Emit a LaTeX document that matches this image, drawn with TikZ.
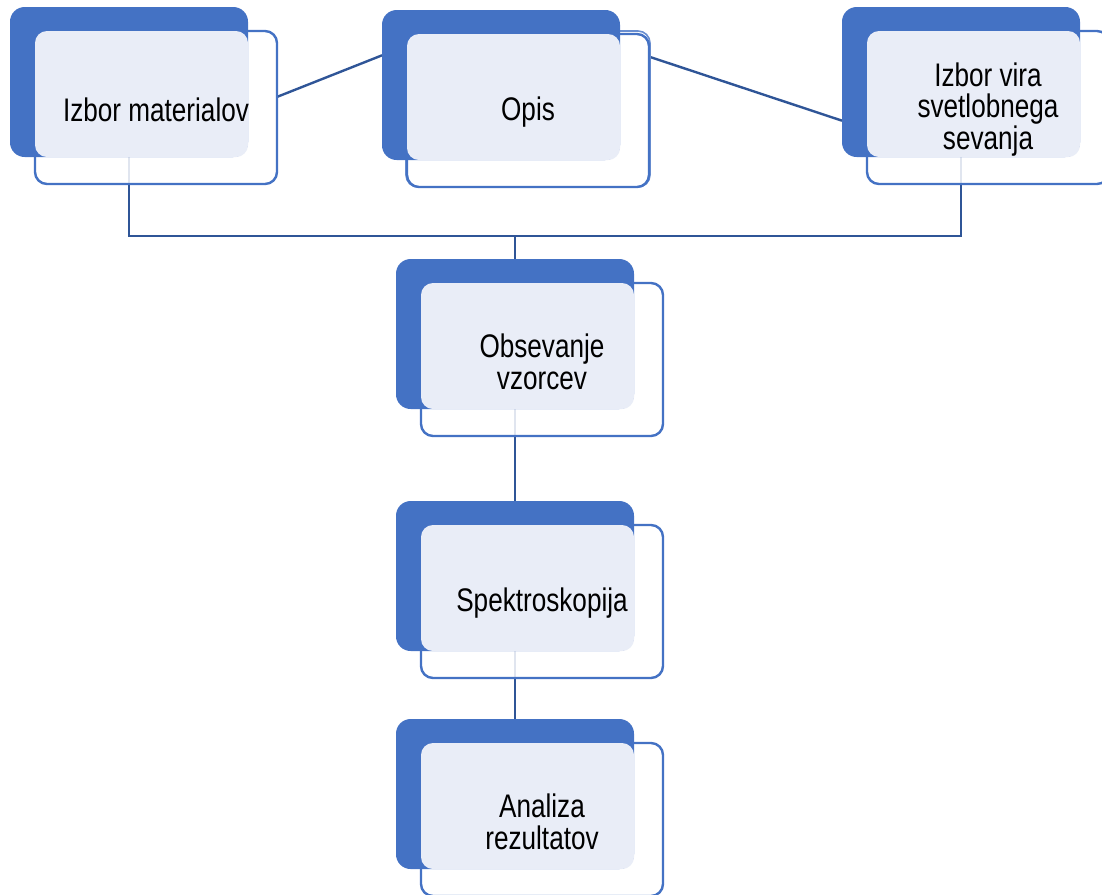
\documentclass[tikz,border=0pt]{standalone}
\usepackage{fontspec}
\setmainfont{Liberation Sans}[FakeStretch=0.8]
\usepackage{tikz}
\usetikzlibrary{positioning, calc, backgrounds}
\definecolor{boxblue}{HTML}{4472C4}
\definecolor{paleblue}{HTML}{E9EDF7}
\definecolor{linkblue}{HTML}{2F5597}

\tikzset{
  blueback/.style={fill=boxblue, rounded corners=11pt, minimum width=178.5pt,
    minimum height=112.5pt, inner sep=0pt, outer sep=0pt, anchor=north west},
  boxline/.style={draw=boxblue, line width=1.8pt, fill=white, fill opacity=0.85,
    rounded corners=9pt, minimum width=181.5pt, minimum height=114.75pt,
    inner sep=0pt, outer sep=0pt, anchor=north west},
  palefill/.style={fill=paleblue, rounded corners=9pt, minimum width=159.75pt,
    minimum height=94.5pt, inner sep=0pt, outer sep=0pt, anchor=north west},
  steptext/.style={align=center, font=\fontsize{24.5}{23.8}\selectfont, text=black},
  link/.style={draw=linkblue, line width=1.8pt}
}

\begin{document}
\begin{tikzpicture}[x=0.75pt, y=-0.75pt]
  \useasboundingbox (0,0) rectangle (1102,894);

  % Second outline left behind the Opis card
  \node[boxline, fill=none, draw=boxblue!80, line width=1.2pt,
    minimum width=183pt, minimum height=117pt] (opis-ghost) at (406,31) {};

  % Step boxes: outline, blue card, pale face, label
  \foreach \name/\bx/\by/\txt in {
      mat/10/7/{Izbor materialov},
      opis/382/10/{Opis},
      vir/842/7/{Izbor vira\\svetlobnega\\sevanja},
      obs/396/259/{Obsevanje\\vzorcev},
      spek/396/501/{Spektroskopija},
      an/396/719/{Analiza\\rezultatov}} {
    \node[boxline] (\name) at (\bx+25,\by+24) {};
    \node[blueback] (\name-back) at (\bx,\by) {};
    \node[palefill] (\name-pale) at (\bx+25,\by+24) {};
    \node[steptext] (\name-text) at ($(\name.center)+(0,2)$) {\txt};
  }

  % Connectors behind the cards
  \begin{scope}[on background layer]
    \coordinate (split) at ($(obs-back.north)+(0,-23)$);
    \draw[link] (mat-back.south) |- (split) -| (vir-back.south);
    \draw[link] (split) -- (obs-back.north);
    \draw[link] (mat.5) -- (opis-back.166);
    \draw[link] (opis.24) -- (vir-back.198);
    \draw[link] (obs-back.south) -- (spek-back.north);
    \draw[link] (spek-back.south) -- (an-back.north);
  \end{scope}
\end{tikzpicture}
\end{document}
